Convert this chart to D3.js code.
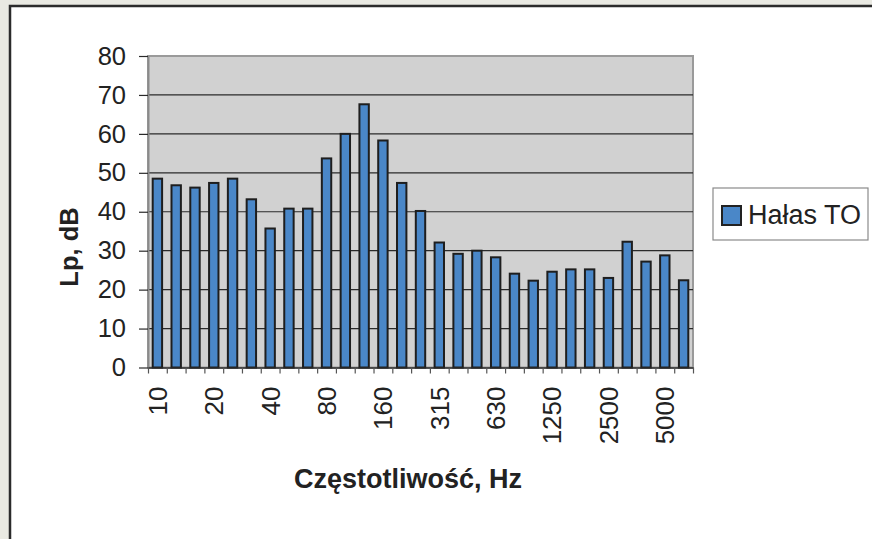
<!DOCTYPE html>
<html>
<head>
<meta charset="utf-8">
<script src="https://cdn.jsdelivr.net/npm/d3@7"></script>
<style>
  body { margin: 0; background: #e9e9e2; }
  svg { display: block; font-family: "Liberation Sans", Arial, sans-serif; }
</style>
</head>
<body>
<div id="chart"></div>
<script>
// 1/3 octave band centre frequencies, Hz
const bands = ["10", "12.5", "16", "20", "25", "31.5", "40", "50", "63", "80", "100", "125",
  "160", "200", "250", "315", "400", "500", "630", "800", "1000", "1250", "1600", "2000",
  "2500", "3150", "4000", "5000", "6300"];
// Lp, dB
const levels = [48.5, 46.8, 46.2, 47.4, 48.5, 43.2, 35.7, 40.8, 40.8, 53.7, 60.0, 67.6,
  58.3, 47.4, 40.2, 32.1, 29.2, 30.0, 28.3, 24.1, 22.3, 24.6, 25.2, 25.2,
  23.0, 32.3, 27.2, 28.8, 22.4];
const shownLabels = ["10", "20", "40", "80", "160", "315", "630", "1250", "2500", "5000"];
const yTicks = [0, 10, 20, 30, 40, 50, 60, 70, 80];
const seriesName = "Hałas TO";

const width = 872;
const height = 539;
const plot = { left: 148, right: 693, top: 56, bottom: 367.5 };
const barColor = "#4a87c8";

const svg = d3.select("#chart").append("svg")
  .attr("width", width)
  .attr("height", height);

// outer frame
svg.append("rect")
  .attr("x", 10).attr("y", 6)
  .attr("width", width + 20).attr("height", height + 20)
  .attr("fill", "#fff")
  .attr("stroke", "#2b2b2b")
  .attr("stroke-width", 2.5);

const x = d3.scaleBand()
  .domain(bands)
  .range([plot.left, plot.right])
  .paddingInner(0.5)
  .paddingOuter(0.25);

const xEdge = d3.scaleLinear()
  .domain([0, bands.length])
  .range([plot.left, plot.right]);

const y = d3.scaleLinear()
  .domain([0, 80])
  .range([plot.bottom, plot.top]);

// plot area
svg.append("rect")
  .attr("x", plot.left).attr("y", plot.top)
  .attr("width", plot.right - plot.left).attr("height", plot.bottom - plot.top)
  .attr("fill", "#d1d1d1")
  .attr("stroke", "#9a9a9a")
  .attr("stroke-width", 2);

// gridlines
svg.append("g")
  .selectAll("line")
  .data(yTicks.filter(d => d > 0 && d < 80))
  .join("line")
  .attr("x1", plot.left).attr("x2", plot.right)
  .attr("y1", d => y(d)).attr("y2", d => y(d))
  .attr("stroke", "#2a2a2a")
  .attr("stroke-width", 1.2);

// bars
svg.append("g")
  .selectAll("rect")
  .data(levels)
  .join("rect")
  .attr("x", (d, i) => x(bands[i]))
  .attr("y", d => y(d))
  .attr("width", x.bandwidth())
  .attr("height", d => y(0) - y(d))
  .attr("fill", barColor)
  .attr("stroke", "#1e1e1e")
  .attr("stroke-width", 2);

// y axis
const yAxis = svg.append("g")
  .attr("transform", `translate(${plot.left},0)`)
  .call(d3.axisLeft(y).tickValues(yTicks).tickSize(9).tickSizeOuter(0).tickPadding(13));
yAxis.select(".domain").attr("stroke", "#8a8a8a").attr("stroke-width", 2);
yAxis.selectAll(".tick line").attr("stroke", "#2a2a2a").attr("stroke-width", 1.2);
yAxis.selectAll(".tick text")
  .attr("font-size", 25.5)
  .attr("fill", "#222")
  .attr("font-family", "Liberation Sans, Arial, sans-serif");

// x axis: ticks at category boundaries
const xAxis = svg.append("g")
  .attr("transform", `translate(0,${plot.bottom})`)
  .call(d3.axisBottom(xEdge).tickValues(d3.range(bands.length + 1)).tickSize(6).tickSizeOuter(0).tickFormat(""));
xAxis.select(".domain").attr("stroke", "#2a2a2a").attr("stroke-width", 1.5);
xAxis.selectAll(".tick line").attr("stroke", "#555").attr("stroke-width", 1.2);

// x labels, rotated
svg.append("g")
  .selectAll("text")
  .data(shownLabels)
  .join("text")
  .attr("transform", d => `translate(${x(d) + x.bandwidth() / 2},${plot.bottom + 19}) rotate(-90)`)
  .attr("text-anchor", "end")
  .attr("dy", "0.36em")
  .attr("font-size", 26)
  .attr("fill", "#222")
  .text(d => d);

// axis titles
svg.append("text")
  .attr("x", 408).attr("y", 488)
  .attr("text-anchor", "middle")
  .attr("font-size", 27)
  .attr("font-weight", "bold")
  .attr("fill", "#222")
  .text("Częstotliwość, Hz");

svg.append("text")
  .attr("transform", "translate(78,247) rotate(-90)")
  .attr("text-anchor", "middle")
  .attr("font-size", 25.5)
  .attr("font-weight", "bold")
  .attr("fill", "#222")
  .text("Lp, dB");

// legend
const legend = svg.append("g").attr("transform", "translate(713,188)");
legend.append("rect")
  .attr("width", 155).attr("height", 52)
  .attr("fill", "#fff")
  .attr("stroke", "#8a8a8a")
  .attr("stroke-width", 1.2);
legend.append("rect")
  .attr("x", 9).attr("y", 18)
  .attr("width", 19).attr("height", 19)
  .attr("fill", barColor)
  .attr("stroke", "#222")
  .attr("stroke-width", 2);
legend.append("text")
  .attr("x", 35).attr("y", 36)
  .attr("font-size", 27)
  .attr("fill", "#222")
  .text(seriesName);
</script>
</body>
</html>
